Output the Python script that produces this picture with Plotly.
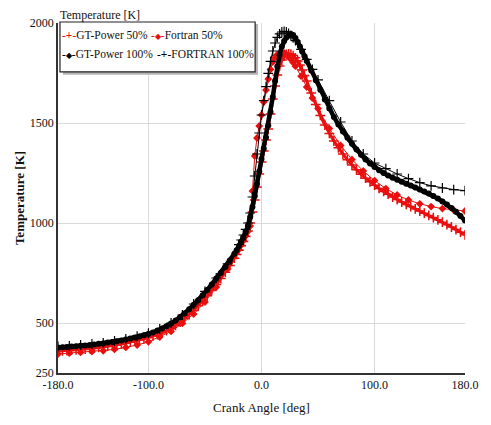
import plotly.graph_objects as go

# ---------------- data ----------------
ANGLE_GT = [-180, -176, -172, -168, -164, -160, -156, -152, -148, -144, -140, -136, -132, -128,
            -124, -120, -116, -112, -108, -104, -100, -96, -92, -88, -84, -80, -76, -72, -68,
            -64, -60, -56, -52, -48, -44, -40, -36, -32, -28, -24,
            -22, -20, -18, -16, -14, -12, -10, -8, -6, -4, -2, 0, 2, 4, 6, 8, 10, 12, 14, 16,
            18, 20, 22, 24, 26, 28, 30, 32, 34, 36, 38, 40,
            44, 48, 52, 56, 60, 64, 68, 72, 76, 80, 84, 88, 92, 96, 100, 104, 108, 112, 116,
            120, 124, 128, 132, 136, 140, 144, 148, 152, 156, 160, 164, 168, 172, 176, 180]

GT_POWER_100 = [378, 379, 380, 382, 384, 386, 388, 390, 393, 396, 398, 402, 405, 409,
                413, 418, 423, 428, 433, 439, 445, 453, 462, 472, 484, 497, 512, 529, 548,
                569, 591, 614, 639, 665, 693, 722, 750, 780, 812, 846,
                864, 885, 905, 928, 955, 985, 1030, 1080, 1135, 1195, 1258, 1320, 1372, 1428,
                1488, 1555, 1630, 1710, 1782, 1840,
                1882, 1910, 1928, 1940, 1945, 1940, 1925, 1905, 1882, 1858, 1834, 1810,
                1762, 1714, 1666, 1618, 1572, 1530, 1492, 1458, 1426, 1396, 1367, 1341, 1318,
                1298, 1280, 1264, 1250, 1237, 1226,
                1216, 1206, 1196, 1187, 1178, 1168, 1158, 1147, 1135, 1122, 1108, 1092, 1075,
                1056, 1035, 1012]

GT_POWER_50 = [360, 361, 362, 364, 366, 368, 370, 372, 375, 378, 380, 384, 387, 391,
               395, 400, 405, 410, 415, 421, 427, 434, 442, 451, 462, 474, 488, 504, 522,
               542, 563, 586, 610, 636, 663, 692, 722, 754, 788, 824,
               843, 864, 886, 908, 932, 960, 1000, 1055, 1115, 1180, 1245, 1305, 1360, 1415,
               1470, 1545, 1620, 1685, 1740, 1785,
               1815, 1834, 1843, 1846, 1844, 1837, 1826, 1810, 1790, 1765, 1738, 1710,
               1650, 1592, 1538, 1490, 1448, 1410, 1376, 1345, 1316, 1290, 1266, 1244, 1224,
               1206, 1189, 1173, 1158, 1144, 1130,
               1117, 1105, 1093, 1082, 1071, 1060, 1049, 1038, 1027, 1016, 1004, 992, 980,
               967, 954, 941]

ANGLE_FORTRAN = [-180, -170, -160, -150, -140, -130, -120, -110, -100, -90, -80, -70, -60,
                 -50, -40, -30, -20, -18, -16, -14, -12, -10, -8, -6, -4, -2, 0, 2, 4, 6, 8,
                 10, 12, 14, 16, 18, 20, 22, 24, 26, 28, 30, 35, 40, 45, 50,
                 60, 70, 80, 90, 100, 110, 120, 130, 140, 150, 160, 170, 180]

FORTRAN_50 = [345, 349, 353, 357, 361, 368, 378, 390, 406, 430, 458, 498, 545,
              605, 680, 770, 868, 890, 912, 935, 958, 985, 1160, 1335, 1425, 1485, 1540, 1605,
              1665, 1720, 1768,
              1805, 1828, 1842, 1850, 1853, 1850, 1843, 1832, 1818, 1802, 1784, 1734, 1680,
              1625, 1572,
              1472, 1388, 1318, 1260, 1212, 1172, 1140, 1115, 1096, 1082, 1072, 1065, 1060]

FORTRAN_100 = [383, 386, 390, 395, 401, 410, 421, 434, 449, 470, 500, 540, 595,
               658, 725, 796, 892, 915, 940, 968, 1000, 1050, 1130, 1235, 1345, 1450, 1540,
               1612, 1682, 1748, 1808,
               1860, 1900, 1928, 1946, 1955, 1958, 1955, 1948, 1938, 1926, 1912, 1868, 1818,
               1768, 1716,
               1612, 1505, 1410, 1345, 1300, 1272, 1245, 1222, 1202, 1186, 1175, 1167, 1162]

X_TICKS = [-180, -100, 0, 100, 180]
X_TICK_TEXT = ["-180.0", "-100.0", "0.0", "100.0", "180.0"]
Y_TICKS = [250, 500, 1000, 1500, 2000]
Y_TICK_TEXT = ["250", "500", "1000", "1500", "2000"]

LEGEND_NAMES = ["GT-Power 50%", "Fortran 50%", "GT-Power 100%", "FORTRAN 100%"]

RED = "#e8100f"
BLACK = "#000000"
FONT = "Liberation Serif, Times New Roman, serif"

fig = go.Figure()

fig.add_trace(go.Scatter(
    x=ANGLE_GT, y=GT_POWER_50, name=LEGEND_NAMES[0], mode="lines+markers",
    line=dict(color=RED, width=3),
    marker=dict(symbol="cross-thin", size=7, color=RED, line=dict(color=RED, width=1.5)),
    showlegend=False))

fig.add_trace(go.Scatter(
    x=ANGLE_FORTRAN, y=FORTRAN_50, name=LEGEND_NAMES[1], mode="lines+markers",
    line=dict(color=RED, width=1),
    marker=dict(symbol="diamond", size=6, color=RED),
    showlegend=False))

fig.add_trace(go.Scatter(
    x=ANGLE_GT, y=GT_POWER_100, name=LEGEND_NAMES[2], mode="lines+markers",
    line=dict(color=BLACK, width=4.5),
    marker=dict(symbol="circle", size=6, color=BLACK),
    showlegend=False))

fig.add_trace(go.Scatter(
    x=ANGLE_FORTRAN, y=FORTRAN_100, name=LEGEND_NAMES[3], mode="lines+markers",
    line=dict(color=BLACK, width=1),
    marker=dict(symbol="cross-thin", size=7, color=BLACK, line=dict(color=BLACK, width=1.2)),
    showlegend=False))

# ---------------- layout ----------------
L, R, T, B = 58, 18, 23, 51
W, H = 491, 425
PW, PH = W - L - R, H - T - B


def px_x(p):
    return (p - L) / PW


def px_y(p):
    return 1 - (p - T) / PH


fig.update_layout(
    width=W, height=H,
    margin=dict(l=L, r=R, t=T, b=B, pad=0),
    paper_bgcolor="white", plot_bgcolor="white",
    font=dict(family=FONT, size=12, color="#111111"),
    showlegend=False,
)

fig.update_xaxes(
    range=[-180, 180], tickvals=X_TICKS, ticktext=X_TICK_TEXT,
    showgrid=True, gridcolor="#d9d9d9", gridwidth=1,
    showline=True, linecolor="#333333", linewidth=1.5,
    zeroline=False, ticks="", tickfont=dict(size=12),
    title=dict(text="Crank Angle [deg]", font=dict(size=13), standoff=12),
)
fig.update_yaxes(
    range=[250, 2000], tickvals=Y_TICKS, ticktext=Y_TICK_TEXT,
    showgrid=True, gridcolor="#d9d9d9", gridwidth=1,
    showline=True, linecolor="#333333", linewidth=1.5,
    zeroline=False, ticks="", tickfont=dict(size=12),
    title=dict(text="<b>Temperature [K]</b>", font=dict(size=13), standoff=2),
)

# top-left unit label
fig.add_annotation(text="Temperature [K]", xref="paper", yref="paper", x=0, y=1,
                   xanchor="left", yanchor="bottom", showarrow=False,
                   font=dict(size=12, color="#111111"), yshift=-1)

# legend box (shadow + box) and entries
fig.add_shape(type="rect", xref="paper", yref="paper",
              x0=px_x(63), x1=px_x(262), y0=px_y(75), y1=px_y(24),
              fillcolor="#b5b5b5", line=dict(width=0), layer="above")
fig.add_shape(type="rect", xref="paper", yref="paper",
              x0=px_x(60), x1=px_x(259), y0=px_y(72), y1=px_y(22),
              fillcolor="white", line=dict(color="#222222", width=1.2), layer="above")

legend_entries = [
    (LEGEND_NAMES[0], RED, "+", 61, 35),
    (LEGEND_NAMES[1], RED, "\u25c6", 152, 35),
    (LEGEND_NAMES[2], BLACK, "\u25c6", 61, 54),
    (LEGEND_NAMES[3], BLACK, "+", 158, 54),
]
for name, col, sym, xp, yp in legend_entries:
    if sym == "+":
        s = f"<span style='color:{col}'>-<b>+</b>-</span>"
    else:
        s = f"<span style='color:{col}'>-<span style='font-size:8px'>{sym}</span>-</span>"
    fig.add_annotation(text=s + name, xref="paper", yref="paper",
                       x=px_x(xp), y=px_y(yp), xanchor="left", yanchor="middle",
                       showarrow=False, borderpad=0,
                       font=dict(size=11.5, color="#111111"))

fig.write_html("out.html")
